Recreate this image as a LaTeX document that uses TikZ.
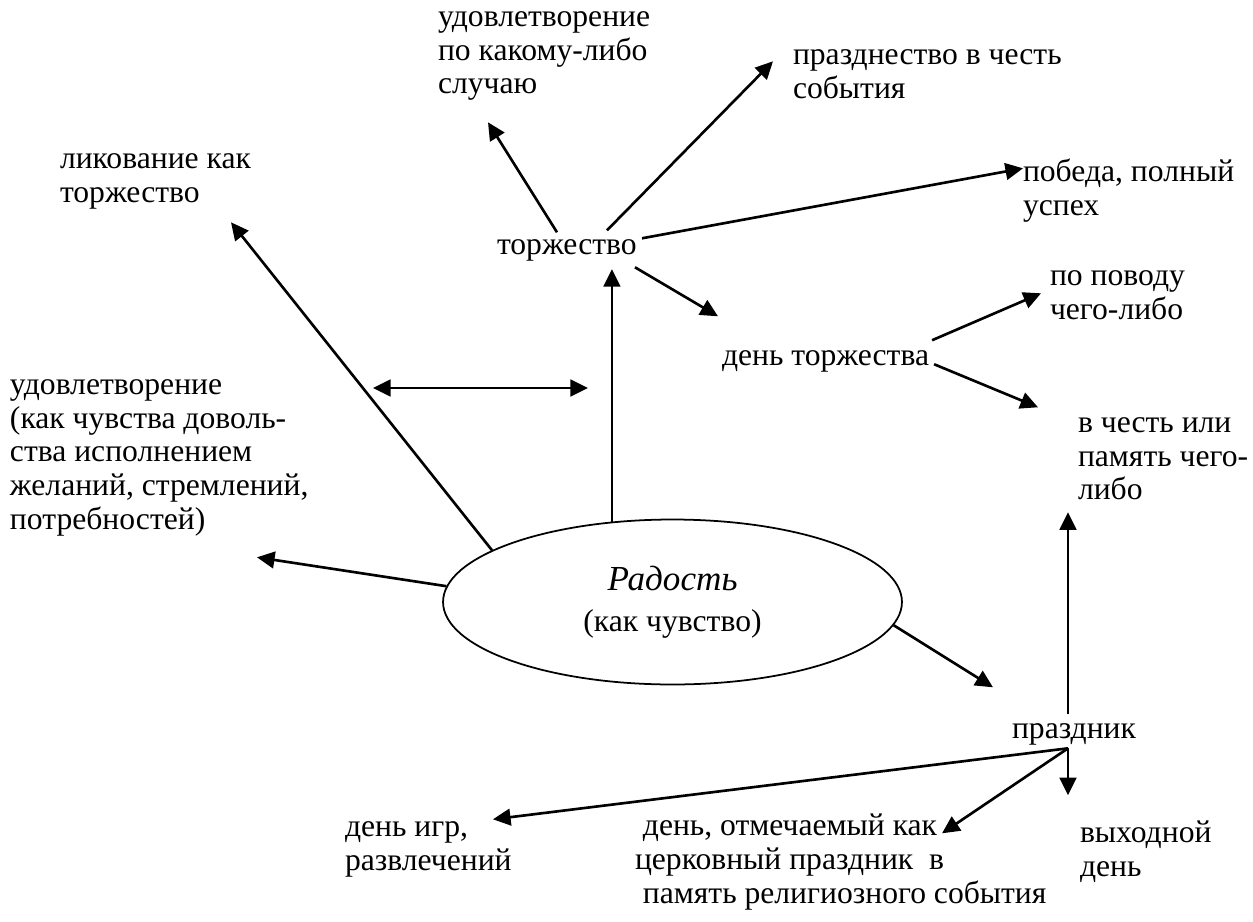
\documentclass[tikz,border=0pt]{standalone}
\usepackage{fontspec}
\setmainfont{Liberation Serif}
\usetikzlibrary{shapes.geometric,arrows.meta}
\begin{document}
\begin{tikzpicture}[x=0.02cm,y=-0.02cm]
\tikzset{mot/.style    = {anchor      = north west,
                          align       = left,
                          inner sep   = 0pt,
                          outer sep   = 0pt,
                          execute at begin node = \strut,
                          font        = \fontsize{18}{19.28}\selectfont},
         >             = {Triangle[length=10pt,width=9.5pt]},
         fleche/.style = {->,
                          line width  = 1.5pt}}
\useasboundingbox (0,0) rectangle (1253,922);
\node[mot] (udA) at (438,11.3) {удовлетворение\\по какому-либо\\случаю};
\node[mot] (pst) at (793,49.3) {празднество в честь\\события};
\node[mot] (lik) at (60,153.3) {ликование как\\торжество};
\node[mot] (tor) at (497,230.3) {торжество};
\node[mot] (pob) at (1023,159.3) {победа, полный\\успех};
\node[mot] (pov) at (1050,270.3) {по поводу\\чего-либо};
\node[mot] (dto) at (722,341.3) {день торжества};
\node[mot] (udB) at (10,379.3) {удовлетворение\\(как чувства доволь-\\ства исполнением\\желаний, стремлений,\\потребностей)};
\node[mot] (vch) at (1078,417.3) {в честь или\\память чего-\\либо};
\node[draw,ellipse,line width=1pt,minimum width=9.18cm,minimum height=3.3cm,
      inner sep=0pt,align=center,font=\fontsize{18}{19.28}\selectfont] (rad) at (672.5,602)
      {{\fontsize{20}{24}\selectfont\itshape Радость}\\[4pt](как чувство)};
\node[mot] (prk) at (1012,714.3) {праздник};
\node[mot] (dig) at (345,821.3) {день игр,\\развлечений};
\node[mot] (otm) at (635,814.3) {\hspace*{4.5pt}день, отмечаемый как\\церковный праздник\ \ в\\\hspace*{4.5pt}память религиозного события};
\node[mot] (vyh) at (1080,821.3) {выходной\\день};
\coordinate (dl) at (373,388);
\coordinate (dr) at (588,388);
\coordinate (J) at ([shift={(56,34)}]prk.north west);
\draw[fleche] ([shift={(60,2)}]tor.north west) -- ([shift={(50,111)}]udA.north west);
\draw[fleche] ([shift={(110,0)}]tor.north west) -- ([shift={(-20,12)}]pst.north west);
\draw[fleche] ([shift={(145,8)}]tor.north west) -- ([shift={(0,9)}]pob.north west);
\draw[fleche] ([shift={(138,37)}]tor.north west) -- ([shift={(-4,-25)}]dto.north west);
\draw[fleche] ([shift={(3,-18)}]dto.east) -- ([shift={(-9,23)}]pov.north west);
\draw[fleche] ([shift={(5,6)}]dto.east) -- ([shift={(-40,-10)}]vch.north west);
\draw[fleche] (rad.127) -- ([shift={(0,5)}]rad.127 |- tor.south);
\draw[fleche] (rad.164.5) -- ([shift={(171,69)}]lik.north west);
\draw[fleche] (rad.176) -- ([shift={(247,178)}]udB.north west);
\draw[fleche,<->] (dl) -- (dr);
\draw[fleche] (rad.354) -- ([shift={(-19,-27)}]prk.north west);
\draw[fleche] ([shift={(56,0)}]prk.north west) -- ([shift={(-10,95)}]vch.north west);
\draw[fleche] (J) -- ([shift={(148,-2)}]dig.north west);
\draw[fleche] (J) -- ([shift={(307,19)}]otm.north west);
\draw[fleche] (J) -- ([shift={(-12,-26)}]vyh.north west);
\end{tikzpicture}
\end{document}
